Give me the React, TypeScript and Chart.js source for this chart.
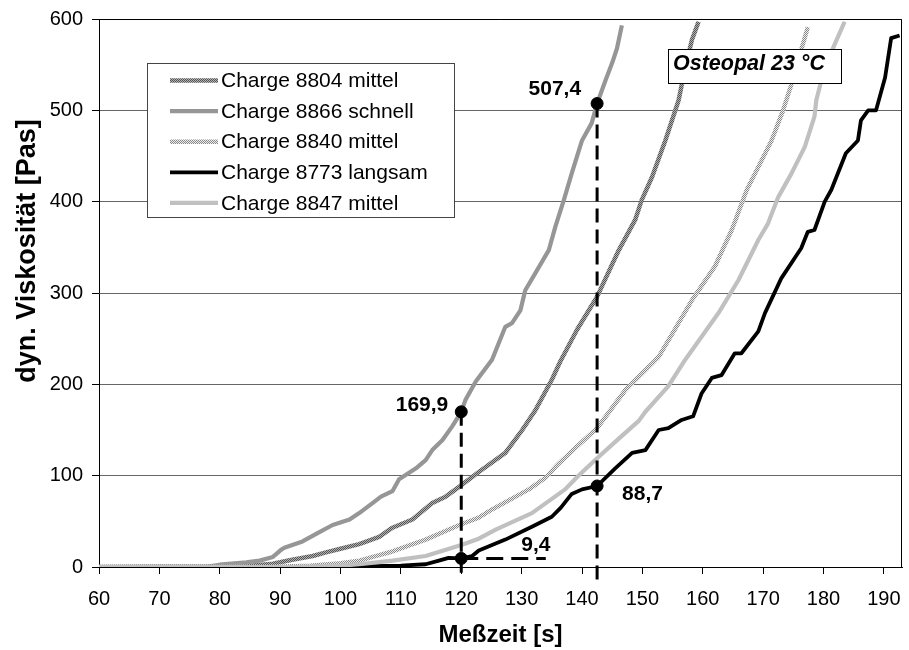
import React, { useEffect, useRef } from "react";
import { Chart, registerables } from "chart.js";

Chart.register(...registerables);

const FONT = "'Liberation Sans', Arial, sans-serif";

// ---------------- DATA ----------------
const seriesLabels = [
  "Charge 8804 mittel",
  "Charge 8866 schnell",
  "Charge 8840 mittel",
  "Charge 8773 langsam",
  "Charge 8847 mittel",
];

const t8804 = [60, 80, 85, 88.8, 92, 95.4, 97.6, 100, 103.1, 106.4, 108.6, 111.9, 115.2, 117.4, 119.7, 122.9, 127.3, 130.1, 132.3, 135, 136.4, 139.2, 142.5, 146.1, 148.8, 149.9, 151.6, 153.8, 156, 157.1, 158.2, 159.3];
const v8804 = [0, 0.5, 1.5, 3.6, 8, 12, 16, 20, 25, 33, 43, 52, 70, 77, 88, 104, 125, 150, 172, 205, 225, 260, 296, 347, 380, 402, 427, 467, 511, 547, 577, 597];

const t8866 = [60, 78, 80, 84.4, 86.6, 88.8, 90.2, 90.7, 93.7, 96.2, 98.7, 101.5, 103.1, 105.3, 106.7, 108.6, 109.7, 112.5, 114.1, 115.2, 116.9, 118.5, 120, 120.7, 122.4, 125.1, 127.3, 128.4, 129.8, 130.6, 132.3, 134.5, 135.6, 137, 138.3, 140, 141.6, 142.5, 143.9, 145, 145.8, 146.6];
const v8866 = [0, 0.5, 2.5, 5, 7, 11, 19, 21, 28, 37, 46, 52, 59, 70, 77, 83, 96, 108, 117, 128, 139, 154, 169.9, 183, 203, 227, 263, 267, 281, 303, 322, 347, 373, 402, 431, 467, 486, 507.4, 533, 552, 568, 593];

const t8840 = [60, 88, 95, 100, 103.1, 106.4, 108.6, 114.1, 119.7, 122.9, 125.1, 131.2, 134, 136.1, 139, 142.5, 147.2, 152.7, 158.2, 162, 164.8, 167.3, 169.2, 171.4, 173.3, 174.7, 176.3, 177.4];
const v8840 = [0, 0, 1.5, 4, 7, 13, 17, 30, 46, 54, 63, 85, 98, 113, 131, 152, 194, 230, 292, 329, 369, 413, 438, 467, 500, 529, 566, 591];

const t8773 = [60, 95, 100, 105, 110, 114.1, 116.3, 117.9, 120, 121.8, 122.9, 127.3, 131.7, 135, 136.5, 138.3, 140, 142.5, 145.5, 148.3, 150.5, 152.7, 154.3, 156.5, 158.4, 159.8, 161.5, 163.1, 165.3, 166.4, 169.2, 170.3, 173, 176.3, 177.4, 178.5, 180.2, 181.3, 183.7, 185.7, 186.2, 187.4, 188.7, 190.2, 191.2, 192.6];
const v8773 = [0, 0, 0.5, 1, 1.5, 3, 7, 10, 9.4, 12, 18, 30, 44, 55, 65, 80, 85, 88.7, 108, 125, 128, 150, 152, 161, 165, 190, 207, 210, 234, 234, 258, 278, 316, 349, 367, 369, 400, 413, 453, 467, 489, 500, 500, 536, 579, 582];

const t8847 = [60, 92, 100, 103.1, 108.6, 114.1, 120, 122.9, 125.7, 131.7, 137.2, 139.4, 142.5, 146, 149.4, 150.5, 154.3, 157.1, 162.6, 165.9, 169.2, 170.8, 172.5, 174.7, 176.9, 178.5, 178.8, 180.2, 181.9, 183.5];
const v8847 = [0, 0, 1.5, 3, 7, 12, 24, 31, 41, 59, 85, 100, 119, 140, 160, 170, 198, 227, 278, 314, 358, 376, 405, 431, 460, 493, 511, 547, 573, 597];

// marked points and their labels
const markT = [120, 142.5, 142.5, 120];
const markV = [169.9, 507.4, 88.7, 9.4];
const markLabels = ["169,9", "507,4", "88,7", "9,4"];

// guide lines
const guideBottom = -14;
const guideEndT = 134;

const xTickMin = 60;
const xTickMax = 193;
const xStep = 10;
const yMin = 0;
const yMax = 600;
const yStep = 100;

const xTitle = "Meßzeit [s]";
const yTitle = "dyn. Viskosität [Pas]";
const boxTitle = "Osteopal 23 °C";

// ---------------- STYLE ----------------
// label placement relative to the marker: [dx, dy, align]
const labelPlacement: [number, number, CanvasTextAlign][] = [
  [-13, -1, "right"],
  [-16, -9, "right"],
  [25, 14, "left"],
  [60, -7, "left"],
];

function makePattern(ctx: CanvasRenderingContext2D, a: string, b: string) {
  const c = document.createElement("canvas");
  c.width = 2;
  c.height = 2;
  const g = c.getContext("2d")!;
  g.fillStyle = a;
  g.fillRect(0, 0, 2, 2);
  g.fillStyle = b;
  g.fillRect(0, 0, 1, 1);
  g.fillRect(1, 1, 1, 1);
  return ctx.createPattern(c, "repeat");
}

const pts = (t: number[], v: number[]) => t.map((x, i) => ({ x, y: v[i] }));

const framePlugin = {
  id: "frame",
  beforeDatasetsDraw(chart: any) {
    const { ctx, chartArea } = chart;
    ctx.save();
    ctx.strokeStyle = "#000";
    ctx.lineWidth = 1;
    ctx.beginPath();
    ctx.moveTo(chartArea.left, Math.round(chartArea.top) + 0.5);
    ctx.lineTo(Math.round(chartArea.right) - 0.5, Math.round(chartArea.top) + 0.5);
    ctx.lineTo(Math.round(chartArea.right) - 0.5, chartArea.bottom);
    ctx.stroke();
    ctx.restore();
  },
};

const overlayPlugin = {
  id: "overlay",
  afterDatasetsDraw(chart: any) {
    const { ctx, chartArea, scales } = chart;
    ctx.save();

    // y axis title
    ctx.save();
    ctx.translate(28, chartArea.top + 232);
    ctx.rotate(-Math.PI / 2);
    ctx.fillStyle = "#000";
    ctx.font = `bold 27px ${FONT}`;
    ctx.textAlign = "center";
    ctx.textBaseline = "middle";
    ctx.fillText(yTitle, 0, 0);
    ctx.restore();

    // value labels
    ctx.fillStyle = "#000";
    ctx.font = `bold 21px ${FONT}`;
    ctx.textBaseline = "alphabetic";
    markLabels.forEach((lab, i) => {
      const px = scales.x.getPixelForValue(markT[i]);
      const py = scales.y.getPixelForValue(markV[i]);
      const [dx, dy, al] = labelPlacement[i];
      ctx.textAlign = al;
      ctx.fillText(lab, px + dx, py + dy);
    });

    // legend
    const lx = chartArea.left + 48;
    const ly = chartArea.top + 44;
    const lw = 307;
    const lh = 154;
    ctx.fillStyle = "#fff";
    ctx.fillRect(lx, ly, lw, lh);
    ctx.strokeStyle = "#444";
    ctx.lineWidth = 1;
    ctx.strokeRect(lx + 0.5, ly + 0.5, lw, lh);
    const items = chart.data.datasets.filter((d: any) => d.inLegend);
    ctx.font = `21px ${FONT}`;
    ctx.textAlign = "left";
    ctx.textBaseline = "middle";
    items.forEach((d: any, i: number) => {
      const cy = ly + 17.5 + i * 30.6;
      ctx.strokeStyle = d.borderColor;
      ctx.lineWidth = d.borderWidth;
      ctx.beginPath();
      ctx.moveTo(lx + 23, cy);
      ctx.lineTo(lx + 71, cy);
      ctx.stroke();
      ctx.fillStyle = "#000";
      ctx.fillText(d.label, lx + 74, cy + 1);
    });

    // title box
    const bx = chartArea.left + 569;
    const by = chartArea.top + 30;
    const bw = 173;
    const bh = 34;
    ctx.fillStyle = "#fff";
    ctx.fillRect(bx, by, bw, bh);
    ctx.strokeStyle = "#000";
    ctx.lineWidth = 1;
    ctx.strokeRect(bx + 0.5, by + 0.5, bw, bh);
    ctx.fillStyle = "#000";
    ctx.font = `italic bold 21.5px ${FONT}`;
    ctx.textAlign = "left";
    ctx.textBaseline = "alphabetic";
    ctx.fillText(boxTitle, bx + 5, by + 21);

    ctx.restore();
  },
};

export default function App() {
  const ref = useRef<HTMLCanvasElement | null>(null);

  useEffect(() => {
    const canvas = ref.current!;
    const ctx = canvas.getContext("2d")!;
    const pat8804 = makePattern(ctx, "#b0b0b0", "#555555");
    const pat8840 = makePattern(ctx, "#eeeeee", "#888888");

    const seriesT = [t8804, t8866, t8840, t8773, t8847];
    const seriesV = [v8804, v8866, v8840, v8773, v8847];
    const colors: any[] = [pat8804, "#969696", pat8840, "#000000", "#c0c0c0"];
    const widths = [4.5, 4.2, 4.5, 3.8, 4.2];

    const series = seriesLabels.map((label, i) => ({
      label,
      data: pts(seriesT[i], seriesV[i]),
      borderColor: colors[i],
      backgroundColor: colors[i],
      borderWidth: widths[i],
      pointRadius: 0,
      tension: 0,
      fill: false,
      borderJoinStyle: "round",
      inLegend: true,
      order: 10 - i,
    }));

    const guideStyle = {
      borderColor: "#000",
      borderWidth: 3,
      borderDash: [14, 7],
      pointRadius: 0,
      fill: false,
      clip: false,
      order: 1,
    };

    const guides = [
      { ...guideStyle, label: "g1", data: [{ x: markT[0], y: markV[0] }, { x: markT[0], y: guideBottom }] },
      { ...guideStyle, label: "g2", data: [{ x: markT[1], y: markV[1] }, { x: markT[1], y: guideBottom }] },
      { ...guideStyle, label: "g3", borderDash: [17, 8], data: [{ x: markT[3], y: markV[3] }, { x: guideEndT, y: markV[3] }] },
    ];

    const markers = {
      label: "markers",
      data: pts(markT, markV),
      showLine: false,
      pointRadius: 6,
      pointBackgroundColor: "#000",
      pointBorderColor: "#000",
      pointBorderWidth: 1,
      clip: false,
      order: 0,
    };

    const chart = new Chart(canvas, {
      type: "line",
      data: { datasets: [...series, ...guides, markers] as any },
      options: {
        animation: false,
        responsive: false,
        devicePixelRatio: 1,
        events: [],
        layout: { padding: { top: 19, right: 5, left: 0, bottom: 0 } },
        plugins: {
          legend: { display: false },
          tooltip: { enabled: false },
        },
        scales: {
          x: {
            type: "linear",
            min: xTickMin,
            max: xTickMax,
            ticks: {
              stepSize: xStep,
              includeBounds: false,
              autoSkip: false,
              maxRotation: 0,
              color: "#000",
              padding: 13,
              font: { family: FONT, size: 20 },
            },
            grid: {
              drawOnChartArea: false,
              drawTicks: true,
              tickLength: 7,
              tickColor: "#000",
              color: "#000",
            },
            border: { color: "#000", width: 1 },
            title: {
              display: true,
              text: xTitle,
              color: "#000",
              padding: 0,
              font: { family: FONT, size: 24, weight: "bold" },
            },
            afterFit: (s: any) => {
              s.height = 83;
              s.paddingLeft = 0;
              s.paddingRight = 0;
            },
          },
          y: {
            min: yMin,
            max: yMax,
            ticks: {
              stepSize: yStep,
              color: "#000",
              padding: 9,
              font: { family: FONT, size: 20 },
            },
            grid: {
              color: "#666",
              lineWidth: 1,
              tickColor: "#000",
              tickLength: 7,
            },
            border: { color: "#000", width: 1 },
            title: { display: false },
            afterFit: (s: any) => {
              s.width = 99;
              s.paddingTop = 0;
              s.paddingBottom = 0;
            },
          },
        },
      } as any,
      plugins: [framePlugin, overlayPlugin],
    });

    return () => chart.destroy();
  }, []);

  return (
    <div style={{ position: "absolute", left: 0, top: 0, width: 909, height: 650, background: "#fff" }}>
      <canvas ref={ref} width={909} height={650} style={{ display: "block", width: 909, height: 650 }} />
    </div>
  );
}
